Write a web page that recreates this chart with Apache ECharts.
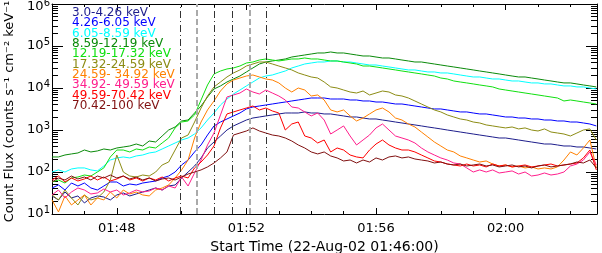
<!DOCTYPE html>
<html><head><meta charset="utf-8">
<script src="https://cdn.jsdelivr.net/npm/echarts@6/dist/echarts.min.js"></script>
<style>html,body{margin:0;padding:0;background:#fff}#c{width:602px;height:253px}</style>
</head><body><div id="c"></div>
<script>
// minutes after 01:46:00, sampled every 12 s
const times = Array.from({length: 85}, (_, i) => +(i * 0.2).toFixed(1));

const bandLabels = ['3.0-4.26 keV','4.26-6.05 keV','6.05-8.59 keV','8.59-12.19 keV','12.19-17.32 keV',
  '17.32-24.59 keV','24.59- 34.92 keV','34.92- 49.59 keV','49.59-70.42 keV','70.42-100 keV'];
const bandColors = ['#1e1e8c','#0000ff','#00ffff','#0a8a0a','#10e010','#8c8c14','#ff8000','#ff1e8c','#ff0000','#801010'];

const flux_3_426 = [26.9,21.6,33.4,24.1,26.9,18.3,24.1,26.9,25.4,21.6,
  28.4,31.7,26.9,30,33.4,37.3,41.6,37.3,46.4,49.1,
  72,100,139,216,373,518,720,1000,1250,1470,
  1730,1930,2040,2160,2280,2410,2540,2540,2540,2690,
  2540,2540,2410,2410,2280,2160,2040,2040,1930,1830,
  1830,1730,1640,1550,1470,1390,1320,1250,1180,1120,
  1060,1000,947,896,848,803,760,720,682,645,
  645,611,578,547,518,491,464,464,440,416,
  416,394,394,373,353];
const flux_426_605 = [41.6,49.1,37.3,54.7,46.4,54.7,41.6,37.3,46.4,57.8,
  57.8,46.4,51.8,49.1,54.7,57.8,61.1,72,80.3,100,
  147,193,300,440,760,1250,1550,1830,2160,2540,
  3170,3530,3730,3940,4160,4400,4640,4910,5180,5470,
  5780,5780,5780,5470,5470,5470,5180,5180,4910,4910,
  4640,4640,4400,4160,4160,3940,3730,3530,3340,3170,
  3170,3000,2840,2690,2690,2540,2410,2410,2280,2160,
  2040,2040,1930,1930,1830,1830,1730,1730,1640,1640,
  1550,1550,1470,1390,1250];
const flux_605_859 = [100,112,100,118,125,125,112,106,139,193,
  216,228,216,241,254,284,300,353,416,491,
  578,645,803,1120,1730,2540,3940,5470,7200,8960,
  11200,13900,17300,19300,20400,22800,25400,30000,33400,37300,
  39400,41600,41600,44000,44000,41600,41600,39400,37300,35300,
  35300,33400,31700,30000,28400,26900,26900,25400,24100,24100,
  22800,22800,21600,20400,19300,18300,18300,17300,16400,16400,
  15500,14700,14700,13900,13200,13200,12500,12500,11800,11200,
  11200,10600,10600,10000,9470];
const flux_859_1219 = [228,228,254,269,284,334,300,317,353,334,
  373,394,416,464,416,547,518,720,1000,1180,
  1640,1730,2540,3730,6110,9470,11200,13900,16400,19300,
  24100,30000,37300,41600,44000,46400,49100,54700,57800,61100,
  64500,68200,68200,72000,68200,68200,64500,61100,57800,57800,
  54700,51800,51800,49100,46400,44000,41600,41600,39400,37300,
  35300,33400,31700,30000,28400,26900,25400,24100,22800,21600,
  20400,19300,18300,18300,17300,16400,15500,14700,13900,13200,
  13200,12500,11800,11200,10600];
const flux_1219_1732 = [57.8,64.5,54.7,72,76,84.8,80.3,100,125,228,
  334,334,300,353,334,394,373,491,645,1120,
  1550,1640,2280,5180,11800,21600,25400,28400,30000,33400,
  39400,41600,46400,49100,46400,44000,46400,49100,49100,51800,
  49100,49100,46400,44000,44000,41600,39400,37300,33400,33400,
  31700,30000,28400,26900,25400,24100,22800,21600,20400,19300,
  17300,16400,14700,13900,13200,12500,11800,11200,10600,9470,
  8960,8480,8030,7600,7200,6820,6450,6110,5780,4910,
  5180,4910,4640,4400,4160];
const flux_1732_2459 = [28.4,21.6,37.3,24.1,16.4,28.4,21.6,24.1,33.4,64.5,
  254,100,80.3,76,84.8,80.3,100,147,173,334,
  645,760,1550,3340,6450,10600,13900,18300,22800,26900,
  33400,37300,41600,41600,37300,33400,30000,26900,22800,20400,
  18300,17300,13900,10600,10000,8960,8030,7600,8480,6820,
  7600,8480,8030,6820,6450,5780,4910,4160,3530,3000,
  2690,2280,2040,1830,1730,1550,1470,1320,1250,1180,
  1120,1180,1060,1120,1000,947,1060,896,848,803,
  720,848,1000,1060,578];
const flux_2459_3492 = [21.6,11.2,26.9,16.4,21.6,28.4,16.4,24.1,21.6,33.4,
  24.1,37.3,30,33.4,28.4,26.9,37.3,41.6,49.1,72,
  112,193,645,1550,3000,4910,8480,12500,15500,17300,
  19300,20400,18300,16400,15500,13200,10000,8030,10000,8960,
  6450,6820,5180,3000,2690,3000,2160,1640,1930,2410,
  3000,3340,2690,1930,1730,1390,1180,896,682,518,
  416,334,300,241,216,193,173,183,155,139,
  147,132,139,125,132,118,125,118,132,193,
  300,254,373,578,125];
const flux_3492_4959 = [28.4,37.3,24.1,33.4,41.6,37.3,30,31.7,39.4,33.4,
  37.3,28.4,31.7,37.3,33.4,35.3,41.6,37.3,46.4,41.6,
  76,46.4,94.7,193,440,848,2280,6110,6820,7600,
  9470,8030,7200,8960,7600,6450,5180,3530,3340,2690,
  2160,2540,1730,803,1000,1250,720,440,578,760,
  1120,1390,1000,720,645,578,491,373,300,254,
  216,193,164,155,125,100,112,100,112,94.7,
  100,106,89.6,100,80.3,84.8,94.7,84.8,89.6,100,
  139,155,193,300,147];
const flux_4959_7042 = [64.5,80.3,57.8,72,61.1,68.2,80.3,64.5,76,61.1,
  68.2,80.3,64.5,72,61.1,72,64.5,76,61.1,72,
  80.3,72,125,173,254,416,1120,2410,2690,3000,
  3340,3730,3000,3340,2840,2540,1000,1390,1550,720,
  645,491,578,300,373,334,254,228,216,334,
  464,578,440,373,334,334,300,254,216,183,
  173,155,147,139,155,139,147,132,155,139,
  147,132,139,147,132,139,147,155,139,147,
  155,164,216,334,112];
const flux_7042_100 = [57.8,72,64.5,80.3,68.2,76,64.5,80.3,72,84.8,
  72,80.3,68.2,76,64.5,72,61.1,68.2,72,64.5,
  76,89.6,100,112,132,164,216,300,760,848,
  947,1120,947,848,760,720,645,547,440,373,
  300,269,300,241,216,183,193,164,193,173,
  216,193,228,241,216,228,204,193,183,164,
  173,155,147,155,139,147,155,139,147,132,
  139,147,132,139,125,139,147,132,139,147,
  155,173,164,193,125];

const fluxSeries = [flux_3_426, flux_426_605, flux_605_859, flux_859_1219, flux_1219_1732,
  flux_1732_2459, flux_2459_3492, flux_3492_4959, flux_4959_7042, flux_7042_100];

// vertical marker times (minutes after 01:46:00) and their kinds
const markerTimes = [3.95, 4.48, 5.01, 5.55, 6.09, 6.62];
const markerKinds = ['dashdot', 'gray', 'dashdot', 'dashdot', 'gray', 'dashdot'];

const timeLabelValues = [2, 6, 10, 14];
const startMinuteOfDay = 106; // 01:46
const xMax = 16.82;

const FONT = 'DejaVu Sans';
const minorTickVals = [];
for (let e = 1; e < 6; e++) for (let k = 2; k <= 9; k++) minorTickVals.push(e + Math.log10(k));

function fmtTime(v) {
  const tot = Math.round(startMinuteOfDay + v);
  const h = Math.floor(tot / 60), m = tot % 60;
  return String(h).padStart(2, '0') + ':' + String(m).padStart(2, '0');
}

const markerStyle = {
  dashdot: {color: '#333', width: 1, type: [7, 3, 1, 3]},
  gray: {color: '#aaa', width: 2, type: [6, 3]}
};

const xBase = {type: 'value', min: 0, max: xMax, splitLine: {show: false}};
const lineBlack = {show: true, onZero: false, lineStyle: {color: '#000', width: 1}};

const chart = echarts.init(document.getElementById('c'), null, {renderer: 'canvas'});
chart.setOption({
  animation: false,
  backgroundColor: '#fff',
  grid: {left: 52, right: 5, top: 4, bottom: 39, containLabel: false, outerBoundsMode: 'none'},
  legend: {
    orient: 'vertical', left: 62, top: 2, itemWidth: 0, itemHeight: 0, itemGap: -1.7,
    icon: 'rect', selectedMode: false,
    textStyle: {fontFamily: FONT, fontSize: 12, lineHeight: 10.5},
    data: bandLabels.map((n, i) => ({name: n, textStyle: {color: bandColors[i]}}))
  },
  xAxis: [
    Object.assign({}, xBase, {
      position: 'bottom', interval: 1, axisLine: lineBlack,
      axisTick: {inside: true, length: 3, lineStyle: {color: '#000'}},
      axisLabel: {customValues: timeLabelValues, formatter: fmtTime, fontFamily: FONT, fontSize: 13, color: '#000', margin: 8},
      name: 'Start Time (22-Aug-02 01:46:00)', nameLocation: 'middle', nameGap: 24,
      nameTextStyle: {fontFamily: FONT, fontSize: 14, color: '#000'}
    }),
    Object.assign({}, xBase, {
      position: 'bottom', axisLine: {show: false, onZero: false},
      axisTick: {inside: true, length: 6, customValues: timeLabelValues, lineStyle: {color: '#000'}},
      axisLabel: {show: false}
    }),
    Object.assign({}, xBase, {
      position: 'top', interval: 1, axisLine: lineBlack,
      axisTick: {inside: true, length: 3, lineStyle: {color: '#000'}},
      axisLabel: {show: false}
    }),
    Object.assign({}, xBase, {
      position: 'top', axisLine: {show: false, onZero: false},
      axisTick: {inside: true, length: 6, customValues: timeLabelValues, lineStyle: {color: '#000'}},
      axisLabel: {show: false}
    })
  ],
  yAxis: [
    {
      type: 'log', logBase: 10, min: 10, max: 1e6, position: 'left',
      axisLine: lineBlack, splitLine: {show: false},
      axisTick: {inside: true, length: 11, lineStyle: {color: '#000'}},
      axisLabel: {
        margin: 2, color: '#000',
        formatter: function (v) {
          const e = Math.round(Math.log10(v));
          return e === 6 ? '{bt|10}{et|' + e + '}' : '{b|10}{e|' + e + '}';
        },
        rich: {
          b: {fontFamily: FONT, fontSize: 13, color: '#000'},
          e: {fontFamily: FONT, fontSize: 10, color: '#000', padding: [0, 0, 8, 0]},
          bt: {fontFamily: FONT, fontSize: 13, color: '#000', padding: [6, 0, 0, 0]},
          et: {fontFamily: FONT, fontSize: 10, color: '#000', padding: [0, 0, 2, 0]}
        }
      },
      name: 'Count Flux (counts s⁻¹ cm⁻² keV⁻¹)', nameLocation: 'middle', nameGap: 33, nameRotate: 90,
      nameTextStyle: {fontFamily: FONT, fontSize: 13, color: '#000'}
    },
    {
      type: 'value', min: 1, max: 6, position: 'left', splitLine: {show: false},
      axisLine: {show: false, onZero: false},
      axisTick: {inside: true, length: 6, customValues: minorTickVals, lineStyle: {color: '#000'}},
      axisLabel: {show: false}
    },
    {
      type: 'log', logBase: 10, min: 10, max: 1e6, position: 'right', splitLine: {show: false},
      axisLine: lineBlack,
      axisTick: {inside: true, length: 11, lineStyle: {color: '#000'}},
      axisLabel: {show: false}
    },
    {
      type: 'value', min: 1, max: 6, position: 'right', splitLine: {show: false},
      axisLine: {show: false, onZero: false},
      axisTick: {inside: true, length: 6, customValues: minorTickVals, lineStyle: {color: '#000'}},
      axisLabel: {show: false}
    }
  ],
  series: fluxSeries.map((vals, i) => {
    const s = {
      name: bandLabels[i], type: 'line', xAxisIndex: 0, yAxisIndex: 0,
      showSymbol: false, symbol: 'none', smooth: false,
      lineStyle: {color: bandColors[i], width: 1}, itemStyle: {color: bandColors[i]},
      data: times.map((t, j) => [t, vals[j]])
    };
    if (i === 0) {
      s.markLine = {
        silent: true, symbol: 'none', label: {show: false}, animation: false,
        data: markerTimes.map((t, j) => ({xAxis: t, lineStyle: markerStyle[markerKinds[j]]}))
      };
    }
    return s;
  })
});
</script>
</body></html>
